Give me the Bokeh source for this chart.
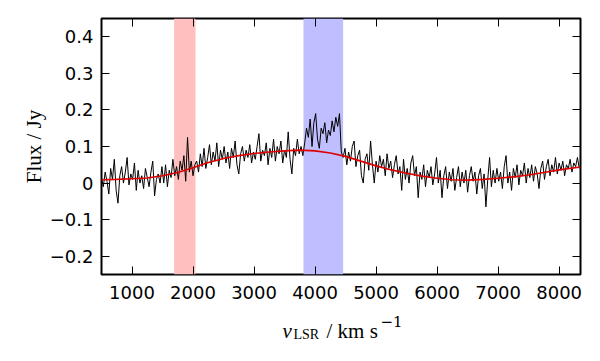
import numpy as np
from bokeh.plotting import figure
from bokeh.layouts import column
from bokeh.models import Range1d, BoxAnnotation, Label, FixedTicker, LinearAxis
from bokeh.embed import file_html
from bokeh.resources import INLINE

# ---- data ----
v_start = 500.0      # km/s, first channel
v_step = 30.0        # km/s, channel width

flux_a = [0.015, -0.01, 0.03, 0.005, -0.03, 0.04, 0.01, 0.065, -0.02, -0.055,
          0.02, 0.045, 0.0, 0.03, 0.07, -0.005, 0.025, 0.01, 0.055, -0.02,
          0.035, 0.0, 0.02, -0.015, 0.04, 0.015, -0.01, 0.03, 0.06, -0.035,
          0.01, 0.025, 0.0, 0.045]
flux_b = [0.0, 0.05, -0.01, 0.035, 0.015, 0.065]
flux_pink = [0.02, 0.045, 0.01, 0.06, 0.035, 0.075, 0.005, 0.125, 0.03, 0.06,
             0.02, 0.05]
flux_c = [0.06, 0.03, 0.08, 0.045, 0.095, 0.04, 0.07, 0.105, 0.05, 0.085,
          0.06, 0.11, 0.045, 0.09, 0.065, 0.1, 0.055, 0.085, 0.04, 0.095,
          0.07, 0.115, 0.05, 0.025, 0.08, 0.1, 0.06, 0.09, 0.07, 0.105,
          0.055, 0.085, 0.065, 0.1, 0.135, 0.06, 0.09, 0.075, 0.11, 0.05,
          0.095, 0.07, 0.12, 0.06, 0.1, 0.08, 0.115, 0.055, 0.09, 0.07,
          0.14, 0.065, 0.025, 0.095, 0.075, 0.12, 0.08, 0.1]
flux_blue = [0.075, 0.11, 0.15, 0.125, 0.175, 0.1, 0.165, 0.19, 0.12, 0.095,
             0.15, 0.135, 0.165, 0.11, 0.145, 0.13, 0.17, 0.14, 0.18, 0.155,
             0.19, 0.085]
flux_d = [0.07, 0.095, 0.05, 0.085, 0.06, 0.1, 0.115, 0.045, 0.075, 0.09,
          0.02, 0.0, 0.065, 0.08, 0.035, 0.115, 0.05, 0.0, 0.06, 0.03,
          0.075, 0.045, 0.065, 0.02, 0.08, 0.04, 0.06, 0.015, 0.05, 0.075,
          0.025, 0.045, -0.02, 0.065, 0.01]
flux_e = [0.04, 0.0, 0.055, 0.075, 0.02, 0.045, -0.04, 0.03, 0.01, 0.05,
          -0.01, 0.035, 0.015, 0.045, -0.005, 0.025, 0.07, 0.0, 0.035, -0.04,
          0.02, 0.045, -0.015, 0.03, 0.005, 0.04, -0.02, 0.015, 0.045, -0.01,
          0.03, 0.0, 0.035, -0.025, 0.02, 0.045, 0.005, 0.03, -0.03, 0.02,
          0.04, -0.015, 0.025, -0.065, 0.01, 0.07, -0.01, 0.035, 0.0, 0.04]
flux_f = [0.005, 0.03, -0.015, 0.045, 0.075, 0.0, 0.03, -0.02, 0.04, 0.015,
          0.05, -0.005, 0.035, 0.02, 0.055, 0.0, 0.04, 0.015, 0.05, 0.005,
          0.045, 0.025, -0.015, 0.04, 0.06, 0.01, 0.045, 0.065, 0.02, 0.05,
          0.03, 0.07, 0.025, 0.055, 0.035, 0.06, 0.02, 0.05, 0.04, 0.065,
          0.03, 0.055, 0.045, 0.07, 0.04]

flux = flux_a + flux_b + flux_pink + flux_c + flux_blue + flux_d + flux_e + flux_f
velocity = v_start + v_step * np.arange(len(flux))

base_v = [500, 750, 1000, 1250, 1500, 1750, 2000, 2250, 2500, 2750, 3000,
          3250, 3500, 3750, 4000, 4250, 4500, 4750, 5000, 5250, 5500, 5750,
          6000, 6250, 6500, 6750, 7000, 7250, 7500, 7750, 8000, 8350]
base_flux = [0.009, 0.010, 0.012, 0.014, 0.020, 0.029, 0.042, 0.056, 0.067,
             0.075, 0.081, 0.085, 0.088, 0.090, 0.088, 0.082, 0.073, 0.060,
             0.047, 0.036, 0.027, 0.019, 0.013, 0.009, 0.008, 0.010, 0.013,
             0.017, 0.022, 0.029, 0.036, 0.044]

red_band = [1690, 2040]
blue_band = [3810, 4460]

x_ticks = [1000, 2000, 3000, 4000, 5000, 6000, 7000, 8000]
y_ticks = [-0.2, -0.1, 0.0, 0.1, 0.2, 0.3, 0.4]

FRAME_W, FRAME_H = 479, 256
B_LEFT, B_RIGHT, B_TOP, B_BOTTOM = 101, 11, 18, 34
STRIP_H = 50

# ---- main figure ----
p = figure(frame_width=FRAME_W, frame_height=FRAME_H,
           x_range=Range1d(500, 8350), y_range=Range1d(-0.25, 0.45),
           output_backend="svg", toolbar_location=None,
           min_border_left=B_LEFT, min_border_right=B_RIGHT,
           min_border_top=B_TOP, min_border_bottom=B_BOTTOM,
           background_fill_color="white", border_fill_color="white")

p.grid.visible = False
p.outline_line_color = "black"
p.outline_line_width = 2

p.add_layout(BoxAnnotation(left=red_band[0], right=red_band[1],
                           fill_color="#ffbfbf", fill_alpha=1.0,
                           line_color=None, level="underlay"))
p.add_layout(BoxAnnotation(left=blue_band[0], right=blue_band[1],
                           fill_color="#bfbfff", fill_alpha=1.0,
                           line_color=None, level="underlay"))

p.line(velocity, flux, line_color="black", line_width=1)
p.line(base_v, base_flux, line_color="#e00000", line_width=1.6)

# mirrored axes (ticks only)
p.add_layout(LinearAxis(), "above")
p.add_layout(LinearAxis(), "right")

for ax in p.axis:
    ax.axis_line_color = None
    ax.major_tick_in = 8
    ax.major_tick_out = 0
    ax.major_tick_line_color = "black"
    ax.major_tick_line_width = 1
    ax.minor_tick_line_color = None
    ax.major_label_text_font = "DejaVu Sans"
    ax.major_label_text_font_size = "18px"
    ax.major_label_text_color = "black"

for ax in p.xaxis:
    ax.ticker = FixedTicker(ticks=x_ticks)
    ax.major_label_standoff = 11
for ax in p.yaxis:
    ax.ticker = FixedTicker(ticks=y_ticks)
    ax.major_label_standoff = 8

for ax, ticks in ((p.above[0], x_ticks), (p.right[0], y_ticks)):
    ax.major_label_overrides = {t: "" for t in ticks}
    ax.major_label_text_font_size = "1px"
    ax.major_label_standoff = 0

p.yaxis[0].axis_label = "Flux / Jy"
p.yaxis[0].axis_label_text_font = "Liberation Serif"
p.yaxis[0].axis_label_text_font_style = "normal"
p.yaxis[0].axis_label_text_font_size = "21px"
p.yaxis[0].axis_label_text_color = "black"
p.yaxis[0].axis_label_standoff = 1

# ---- x-axis label strip: v_LSR / km s^-1 ----
# strip coordinates: x = page pixel column, y = pixels up from strip bottom
lab = figure(width=B_LEFT + FRAME_W + B_RIGHT, height=STRIP_H,
             x_range=Range1d(B_LEFT, B_LEFT + FRAME_W),
             y_range=Range1d(0, STRIP_H), x_axis_type=None, y_axis_type=None,
             output_backend="svg", toolbar_location=None,
             min_border_left=B_LEFT, min_border_right=B_RIGHT,
             min_border_top=0, min_border_bottom=0,
             outline_line_color=None, background_fill_color="white",
             border_fill_color="white")
lab.grid.visible = False

pieces = [  # text, x, baseline (px above strip bottom), font, size, style
    ("v", 282, 28, "Liberation Serif", "21px", "italic"),
    ("LSR", 293, 24, "Liberation Serif", "14px", "normal"),
    ("/ km s", 326, 28, "Liberation Serif", "21px", "normal"),
    ("\u22121", 380, 37, "DejaVu Serif", "15px", "normal"),
]
for txt, px, py, font, size, style in pieces:
    lab.add_layout(Label(x=px, y=py, text=txt, text_font=font,
                         text_font_style=style, text_font_size=size,
                         text_baseline="alphabetic", text_align="left",
                         text_color="black"))

layout = column(p, lab, spacing=0)
open("out.html", "w").write(file_html(layout, INLINE))
